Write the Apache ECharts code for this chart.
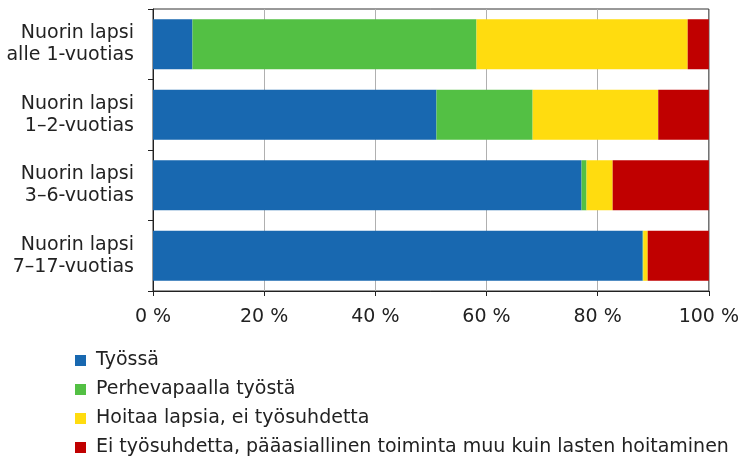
<!DOCTYPE html>
<html>
<head>
<meta charset="utf-8">
<script src="https://cdn.jsdelivr.net/npm/echarts@6/dist/echarts.min.js"></script>
<style>html,body{margin:0;padding:0;background:#fff}#c{width:742px;height:465px}</style>
</head>
<body>
<div id="c"></div>
<script>
const categories = ["Nuorin lapsi\nalle 1-vuotias", "Nuorin lapsi\n1–2-vuotias", "Nuorin lapsi\n3–6-vuotias", "Nuorin lapsi\n7–17-vuotias"];
const seriesNames = ["Työssä", "Perhevapaalla työstä", "Hoitaa lapsia, ei työsuhdetta", "Ei työsuhdetta, pääasiallinen toiminta muu kuin lasten hoitaminen"];
const tyossa = [7.1, 51.0, 77.1, 88.1];
const perhevapaa = [51.1, 17.3, 0.9, 0.1];
const hoitaa = [38.0, 22.6, 4.7, 0.8];
const muu = [3.8, 9.1, 17.3, 11.0];
const xTicks = [0, 20, 40, 60, 80, 100];
const colors = ["#1868b0", "#53c044", "#ffdc0f", "#c00000"];

const FONT = "DejaVu Sans";
const chart = echarts.init(document.getElementById('c'), null, {renderer: 'canvas'});
const dataSets = [tyossa, perhevapaa, hoitaa, muu];
chart.setOption({
  animation: false,
  color: colors,
  textStyle: {fontFamily: FONT},
  grid: {left: 153, right: 31, top: 9, height: 282, show: true, borderColor: '#333', borderWidth: 1, backgroundColor: 'transparent'},
  xAxis: {
    type: 'value', min: xTicks[0], max: xTicks[xTicks.length - 1], interval: 20,
    axisLine: {show: true, lineStyle: {color: '#222', width: 1}},
    axisTick: {show: true, length: 5, lineStyle: {color: '#222'}},
    splitLine: {show: true, lineStyle: {color: '#b0b0b0', width: 1}},
    axisLabel: {margin: 17, fontSize: 19, color: '#222', fontFamily: FONT, formatter: v => v + ' %'}
  },
  yAxis: {
    type: 'category', data: categories, inverse: true,
    axisLine: {show: true, lineStyle: {color: '#222', width: 1}},
    axisTick: {show: true, length: 5, lineStyle: {color: '#222'}},
    axisLabel: {margin: 19, fontSize: 19, lineHeight: 22, color: '#222', fontFamily: FONT, align: 'right'}
  },
  legend: {
    orient: 'vertical', left: 75, top: 351, padding: 0, itemWidth: 11, itemHeight: 11, itemGap: 10,
    icon: 'rect',
    textStyle: {fontSize: 19, color: '#222', fontFamily: FONT, padding: [0, 0, 0, 5]},
    data: seriesNames
  },
  series: seriesNames.map((n, i) => ({
    name: n, type: 'bar', stack: 'total', data: dataSets[i], barCategoryGap: '29%'
  }))
});
</script>
</body>
</html>
